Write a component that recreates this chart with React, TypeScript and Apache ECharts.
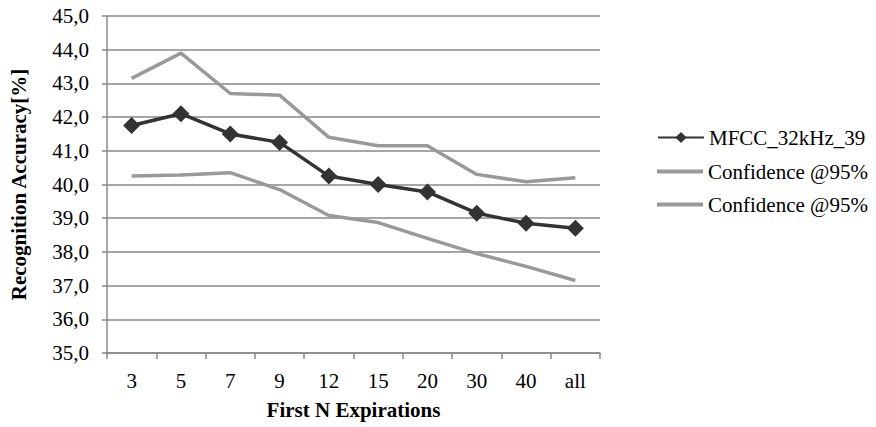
import React, { useEffect, useRef } from "react";
import * as echarts from "echarts";

const categories = ["3", "5", "7", "9", "12", "15", "20", "30", "40", "all"];
const mfcc = [41.75, 42.1, 41.5, 41.25, 40.25, 40.0, 39.78, 39.15, 38.85, 38.7];
const upper = [43.15, 43.9, 42.7, 42.65, 41.4, 41.15, 41.15, 40.3, 40.08, 40.2];
const lower = [40.25, 40.28, 40.35, 39.85, 39.08, 38.87, 38.4, 37.95, 37.57, 37.15];

const seriesNames = ["MFCC_32kHz_39", "Confidence @95%"];
const yTitle = "Recognition Accuracy[%]";
const xTitle = "First N Expirations";

const FONT = "Liberation Serif";
const FS = 21;

export default function App() {
  const ref = useRef<HTMLDivElement>(null);
  useEffect(() => {
    const chart = echarts.init(ref.current!, null, { renderer: "svg" });
    const textStyle = { fontFamily: FONT, fontSize: FS, color: "#000" };
    const legendCommon = {
      orient: "vertical",
      left: 652,
      itemWidth: 46,
      itemGap: 0,
      selectedMode: false,
      textStyle,
    };
    chart.setOption({
      animation: false,
      backgroundColor: "#fff",
      textStyle: { fontFamily: FONT },
      grid: { left: 100, right: 276, top: 16, bottom: 74, containLabel: false },
      legend: [
        { ...legendCommon, top: 122, itemHeight: 14, data: [seriesNames[0]] },
        {
          ...legendCommon,
          top: 156,
          itemHeight: 4,
          data: [{ name: seriesNames[1], icon: "rect", itemStyle: { color: "#999" } }],
        },
        {
          ...legendCommon,
          top: 189,
          itemHeight: 4,
          data: [{ name: seriesNames[1], icon: "rect", itemStyle: { color: "#999" } }],
        },
      ],
      xAxis: {
        type: "category",
        data: categories,
        boundaryGap: true,
        name: xTitle,
        nameLocation: "middle",
        nameGap: 46,
        nameTextStyle: { fontFamily: FONT, fontSize: FS, fontWeight: "bold", color: "#000" },
        axisLine: { lineStyle: { color: "#888", width: 1.5 } },
        axisTick: { show: true, length: 6, lineStyle: { color: "#888", width: 1.5 } },
        axisLabel: { fontFamily: FONT, fontSize: FS, color: "#000", margin: 17 },
        splitLine: { show: false },
      },
      yAxis: {
        type: "value",
        min: 35,
        max: 45,
        interval: 1,
        name: yTitle,
        nameLocation: "middle",
        nameRotate: 90,
        nameGap: 78,
        nameTextStyle: { fontFamily: FONT, fontSize: FS, fontWeight: "bold", color: "#000" },
        axisLine: { show: true, lineStyle: { color: "#888", width: 1.5 } },
        axisTick: { show: true, length: 5, lineStyle: { color: "#888", width: 1.5 } },
        axisLabel: {
          fontFamily: FONT,
          fontSize: FS,
          color: "#000",
          margin: 18,
          formatter: (v: number) => v.toFixed(1).replace(".", ","),
        },
        splitLine: { show: true, lineStyle: { color: "#888", width: 1.5 } },
      },
      series: [
        {
          name: seriesNames[0],
          type: "line",
          data: mfcc,
          z: 3,
          symbol: "diamond",
          symbolSize: 17,
          lineStyle: { color: "#333", width: 3.5 },
          itemStyle: { color: "#333" },
        },
        {
          name: seriesNames[1],
          type: "line",
          data: upper,
          symbol: "none",
          lineStyle: { color: "#999", width: 3.5 },
          itemStyle: { color: "#999" },
        },
        {
          name: seriesNames[1],
          type: "line",
          data: lower,
          symbol: "none",
          lineStyle: { color: "#999", width: 3.5 },
          itemStyle: { color: "#999" },
        },
      ],
    });
    return () => chart.dispose();
  }, []);
  return (
    <div
      ref={ref}
      style={{ position: "fixed", left: 0, top: 0, width: 876, height: 427 }}
    />
  );
}
